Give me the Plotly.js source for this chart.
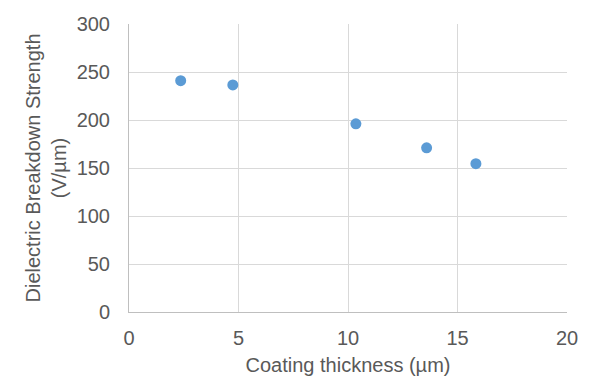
<!DOCTYPE html>
<html>
<head>
<meta charset="utf-8">
<script src="https://cdn.plot.ly/plotly-3.0.1.min.js"></script>
<style>html,body{margin:0;padding:0;background:#fff;}#chart{width:600px;height:388px;}</style>
</head>
<body>
<div id="chart"></div>
<script>
var thickness = [2.36, 4.74, 10.36, 13.59, 15.84];
var strength = [241, 236.5, 196, 171, 154.5];
var xTicks = [0, 5, 10, 15, 20];
var yTicks = [0, 50, 100, 150, 200, 250, 300];

var font = 'Liberation Sans, Arial, sans-serif';
var fs = 20;
var trace = {
  x: thickness,
  y: strength,
  type: 'scatter',
  mode: 'markers',
  marker: {color: '#5b9bd5', size: 11},
  hoverinfo: 'skip'
};
var layout = {
  width: 600, height: 388,
  margin: {l: 129, r: 33, t: 24, b: 76},
  paper_bgcolor: '#ffffff', plot_bgcolor: '#ffffff',
  showlegend: false,
  font: {family: font, color: '#595959', size: fs},
  xaxis: {
    range: [0, 20], tickvals: xTicks, ticktext: xTicks.map(String),
    showgrid: true, gridcolor: '#d9d9d9', gridwidth: 1,
    zeroline: false, showline: true, linecolor: '#bfbfbf', linewidth: 1,
    ticks: 'outside', ticklen: 8, tickcolor: 'rgba(0,0,0,0)',
    tickfont: {family: font, size: fs, color: '#595959'},
    title: {text: 'Coating thickness (µm)', font: {family: font, size: fs, color: '#595959'}, standoff: 9}
  },
  yaxis: {
    range: [0, 300], tickvals: yTicks, ticktext: yTicks.map(String),
    showgrid: true, gridcolor: '#d9d9d9', gridwidth: 1,
    zeroline: false, showline: true, linecolor: '#bfbfbf', linewidth: 1,
    ticks: 'outside', ticklen: 14, tickcolor: 'rgba(0,0,0,0)',
    tickfont: {family: font, size: fs, color: '#595959'},
    title: {text: 'Dielectric Breakdown Strength<br>(V/µm)', font: {family: font, size: fs, color: '#595959'}, standoff: 4}
  }
};
Plotly.newPlot('chart', [trace], layout, {displayModeBar: false, staticPlot: true});
</script>
</body>
</html>
